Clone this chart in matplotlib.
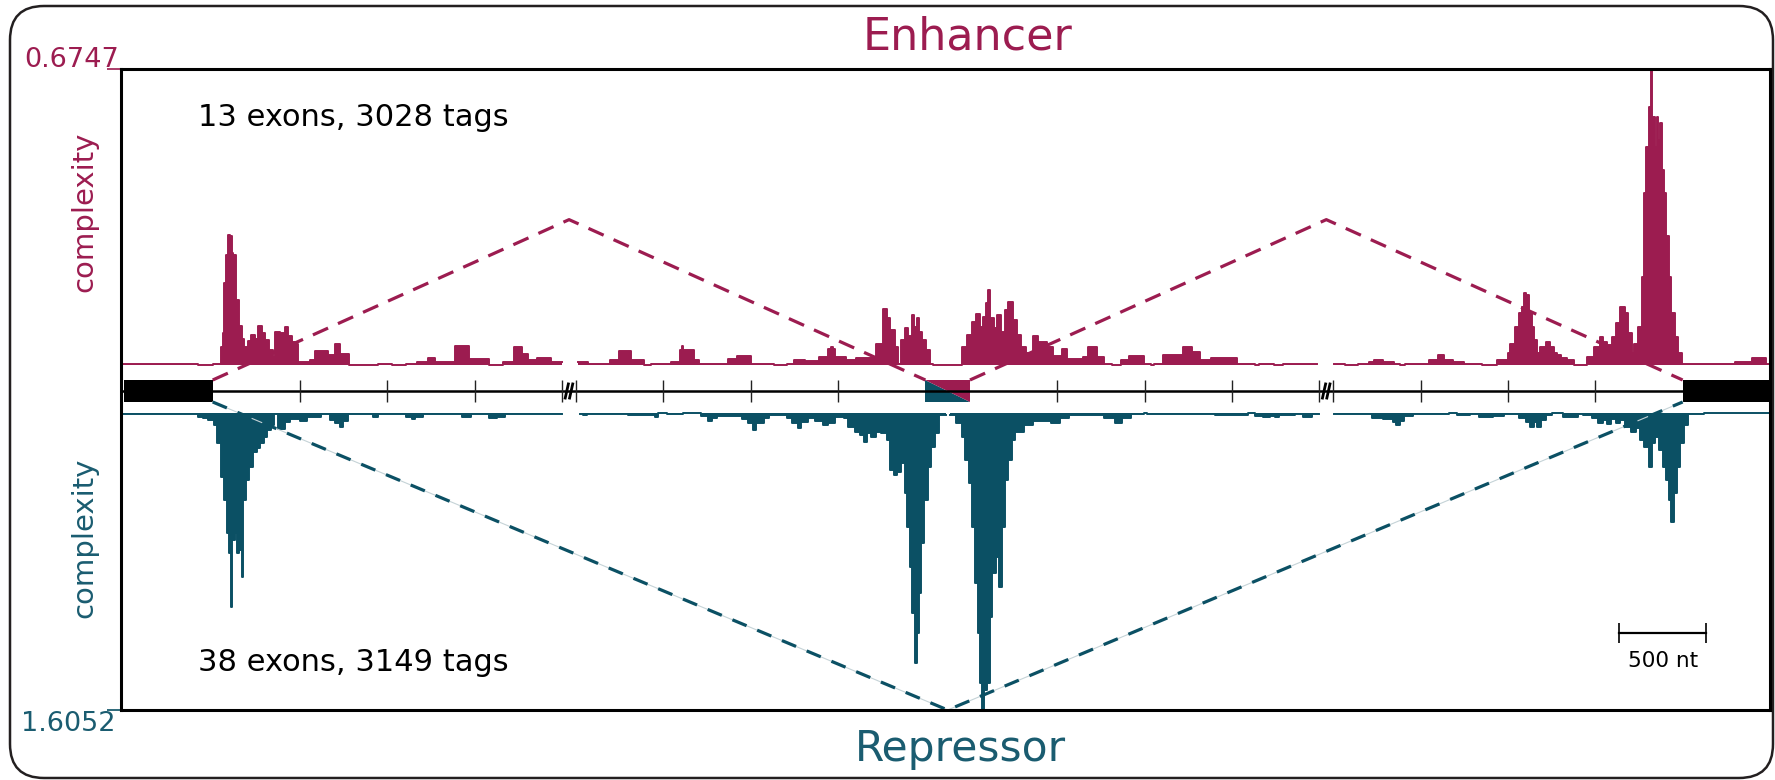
import numpy as np
import matplotlib
matplotlib.use("Agg")
from matplotlib import pyplot as plt
from matplotlib.patches import FancyBboxPatch, Rectangle, Polygon

plt.rcParams["font.family"] = ["DejaVu Sans"]

ENH_COLOR = "#9c1c50"
REP_COLOR = "#0b5064"
REP_TEXT = "#1a5c70"

# figure size in px (dpi 100)
W, H = 1775, 780

# genomic plotting coordinate (nt, introns truncated at the // breaks)
XMAX = 9440
ENH_MAX = 0.6747
REP_MAX = 1.6052

exon_starts = [20, 4605, 8940]
exon_ends = [525, 4860, 9440]
alt_exon = 1
break_starts = [2525, 6860]
break_width = 80
gene_ticks = [1025, 1525, 2025, 3105, 3605, 4105, 5360, 5860, 6360, 7440, 7940, 8440]

enh_junctions = [(525, 4605), (4860, 8940)]
rep_junctions = [(525, 8940)]

scale_start = 8575
scale_len = 500

# enhancer complexity track: step starts (nt) and values
enh_starts = [
    0, 439, 527, 572, 582, 592, 603, 613, 623, 633,
    644, 658, 674, 695, 705, 725, 746, 766, 787, 807,
    827, 848, 868, 883, 909, 936, 956, 977, 997, 1011,
    1083, 1113, 1185, 1226, 1256, 1308, 1471, 1553, 1634, 1696,
    1757, 1798, 1910, 1992, 2104, 2186, 2247, 2298, 2329, 2380,
    2462, 2523, 2615, 2676, 2799, 2850, 2921, 2993, 3034, 3148,
    3199, 3209, 3219, 3280, 3311, 3475, 3526, 3607, 3740, 3812,
    3853, 3914, 3996, 4047, 4067, 4077, 4087, 4149, 4210, 4302,
    4322, 4363, 4384, 4404, 4429, 4449, 4465, 4486, 4506, 4527,
    4537, 4557, 4568, 4588, 4608, 4629, 4649, 4813, 4843, 4874,
    4894, 4915, 4935, 4952, 4966, 4976, 4997, 5017, 5037, 5058,
    5078, 5109, 5129, 5150, 5180, 5221, 5252, 5303, 5334, 5385,
    5415, 5507, 5538, 5589, 5630, 5671, 5722, 5773, 5855, 5896,
    5916, 5967, 6079, 6130, 6178, 6241, 6388, 6493, 6514, 6598,
    6650, 6849, 6944, 7007, 7080, 7143, 7174, 7227, 7290, 7321,
    7353, 7489, 7541, 7573, 7625, 7688, 7793, 7877, 7940, 7950,
    7982, 8003, 8020, 8030, 8045, 8060, 8076, 8091, 8108, 8125,
    8160, 8181, 8202, 8223, 8244, 8276, 8318, 8391, 8433, 8464,
    8485, 8506, 8538, 8559, 8580, 8611, 8628, 8649, 8664, 8685,
    8706, 8720, 8733, 8745, 8758, 8766, 8779, 8792, 8800, 8811,
    8821, 8834, 8846, 8859, 8874, 8895, 8916, 8936, 9240, 9335,
    9419,
]
enh_vals = [
    0.003, 0.0, 0.003, 0.04, 0.073, 0.186, 0.25, 0.296, 0.294, 0.255,
    0.25, 0.148, 0.09, 0.06, 0.042, 0.055, 0.068, 0.06, 0.089, 0.073,
    0.056, 0.034, 0.018, 0.076, 0.073, 0.086, 0.065, 0.053, 0.049, 0.007,
    0.011, 0.032, 0.022, 0.048, 0.025, 0.0, 0.003, 0.0, 0.003, 0.007,
    0.017, 0.007, 0.043, 0.014, 0.0, 0.007, 0.04, 0.024, 0.012, 0.017,
    0.006, np.nan, 0.007, 0.003, 0.011, 0.032, 0.011, 0.0, 0.003, 0.007,
    0.034, 0.043, 0.034, 0.011, 0.003, 0.013, 0.02, 0.003, 0.0, 0.003,
    0.011, 0.009, 0.019, 0.036, 0.04, 0.036, 0.019, 0.011, 0.017, 0.019,
    0.049, 0.127, 0.106, 0.08, 0.042, 0.003, 0.057, 0.084, 0.065, 0.114,
    0.087, 0.106, 0.076, 0.057, 0.034, 0.003, 0.0, 0.042, 0.068, 0.099,
    0.117, 0.087, 0.11, 0.141, 0.171, 0.106, 0.084, 0.114, 0.076, 0.125,
    0.144, 0.103, 0.068, 0.042, 0.027, 0.066, 0.053, 0.042, 0.02, 0.036,
    0.013, 0.019, 0.04, 0.019, 0.003, 0.0, 0.011, 0.02, 0.003, 0.0,
    0.003, 0.023, 0.04, 0.03, 0.011, 0.017, 0.003, 0.0, 0.003, 0.0,
    0.003, np.nan, 0.003, 0.0, 0.003, 0.007, 0.011, 0.007, 0.003, 0.0,
    0.003, 0.012, 0.022, 0.012, 0.007, 0.003, 0.0, 0.011, 0.027, 0.049,
    0.087, 0.118, 0.133, 0.163, 0.159, 0.118, 0.087, 0.057, 0.027, 0.04,
    0.053, 0.041, 0.027, 0.022, 0.017, 0.012, 0.0, 0.019, 0.041, 0.064,
    0.053, 0.045, 0.064, 0.095, 0.133, 0.118, 0.072, 0.027, 0.049, 0.087,
    0.201, 0.391, 0.498, 0.589, 0.6747, 0.566, 0.498, 0.566, 0.513, 0.551,
    0.444, 0.391, 0.293, 0.201, 0.118, 0.064, 0.027, 0.003, 0.007, 0.017,
    0.003,
]

# repressor complexity track (drawn downwards)
rep_starts = [
    0, 439, 470, 500, 531, 552, 572, 592, 607, 617,
    627, 637, 650, 664, 674, 691, 699, 715, 735, 756,
    776, 797, 817, 838, 858, 874, 899, 940, 970, 1022,
    1062, 1144, 1195, 1226, 1256, 1271, 1297, 1440, 1471, 1634,
    1665, 1685, 1726, 1951, 2002, 2104, 2155, 2196, 2523, 2625,
    2646, 2666, 2901, 3056, 3076, 3127, 3219, 3321, 3362, 3383,
    3413, 3556, 3587, 3618, 3638, 3679, 3709, 3812, 3842, 3873,
    3893, 3934, 3975, 4016, 4047, 4087, 4138, 4159, 4200, 4230,
    4251, 4271, 4292, 4322, 4353, 4384, 4404, 4425, 4445, 4465,
    4486, 4502, 4517, 4531, 4543, 4555, 4568, 4582, 4598, 4619,
    4639, 4659, 4680, 4721, 4747, 4782, 4813, 4833, 4854, 4874,
    4890, 4905, 4919, 4931, 4943, 4956, 4972, 4986, 5007, 5027,
    5042, 5058, 5078, 5099, 5119, 5170, 5221, 5323, 5374, 5426,
    5630, 5691, 5732, 5783, 5855, 5875, 6262, 6451, 6493, 6535,
    6577, 6608, 6629, 6723, 6765, 6818, 6860, 6944, 7164, 7227,
    7279, 7300, 7321, 7342, 7395, 7604, 7646, 7720, 7772, 7856,
    7919, 8003, 8045, 8066, 8087, 8108, 8129, 8160, 8192, 8255,
    8339, 8370, 8423, 8454, 8485, 8506, 8527, 8559, 8580, 8611,
    8643, 8674, 8695, 8720, 8748, 8762, 8779, 8804, 8825, 8842,
    8859, 8874, 8888, 8905, 8926, 8947, 8968, 9062,
]
rep_vals = [
    0.006, 0.02, 0.029, 0.038, 0.065, 0.164, 0.344, 0.47, 0.65, 0.758,
    1.047, 0.686, 0.65, 0.758, 0.74, 0.884, 0.47, 0.36, 0.29, 0.209,
    0.191, 0.164, 0.128, 0.092, 0.065, 0.006, 0.088, 0.047, 0.034, 0.041,
    0.02, 0.006, 0.038, 0.052, 0.074, 0.041, 0.006, 0.02, 0.006, 0.02,
    0.034, 0.02, 0.006, 0.023, 0.006, 0.029, 0.02, 0.006, np.nan, 0.006,
    0.011, 0.006, 0.011, 0.02, 0.0, 0.006, 0.0, 0.016, 0.041, 0.029,
    0.016, 0.034, 0.056, 0.092, 0.052, 0.029, 0.011, 0.029, 0.056, 0.083,
    0.047, 0.029, 0.041, 0.065, 0.052, 0.02, 0.029, 0.074, 0.101, 0.119,
    0.155, 0.11, 0.128, 0.101, 0.11, 0.146, 0.308, 0.335, 0.317, 0.272,
    0.434, 0.614, 0.83, 1.083, 1.353, 1.191, 0.975, 0.704, 0.47, 0.29,
    0.182, 0.11, 0.011, np.nan, 0.011, 0.056, 0.128, 0.254, 0.38, 0.614,
    0.92, 1.191, 1.461, 1.6052, 1.497, 1.461, 1.101, 0.866, 0.776, 0.938,
    0.614, 0.362, 0.254, 0.146, 0.101, 0.065, 0.041, 0.056, 0.029, 0.011,
    0.029, 0.052, 0.029, 0.006, 0.0, 0.006, 0.011, 0.0, 0.016, 0.023,
    0.016, 0.023, 0.011, 0.006, 0.023, 0.006, np.nan, 0.006, 0.029, 0.034,
    0.047, 0.065, 0.041, 0.016, 0.006, 0.0, 0.011, 0.006, 0.023, 0.016,
    0.006, 0.029, 0.047, 0.074, 0.047, 0.074, 0.038, 0.011, 0.0, 0.023,
    0.006, 0.011, 0.029, 0.056, 0.038, 0.06, 0.034, 0.052, 0.038, 0.074,
    0.101, 0.083, 0.146, 0.182, 0.29, 0.164, 0.128, 0.2, 0.29, 0.362,
    0.47, 0.587, 0.434, 0.29, 0.164, 0.065, 0.006, 0.0,
]

assert len(enh_starts) == len(enh_vals)
assert len(rep_starts) == len(rep_vals)


def steps(starts, vals):
    starts = np.asarray(starts, float)
    ends = np.append(starts[1:], XMAX)
    xs = np.column_stack([starts, ends]).ravel()
    ys = np.repeat(np.asarray(vals, float), 2)
    return xs, ys


def fig_rect(x0, y0, x1, y1):
    # pixel box (y measured from the top) -> figure fraction
    return [x0 / W, 1 - y1 / H, (x1 - x0) / W, (y1 - y0) / H]


def clean(ax):
    ax.patch.set_alpha(0)
    for s in ax.spines.values():
        s.set_visible(False)
    ax.set_xticks([])


# layout (px)
BOX_L, BOX_T, BOX_R, BOX_B = 121, 69, 1770, 710
ENH_BASE = 365
REP_BASE = 413


def box_frac(y_px):
    return (BOX_B - y_px) / (BOX_B - BOX_T)


GENE_Y = box_frac(391)
EX_TOP = box_frac(380)
EX_BOT = box_frac(402)
APEX_ENH = 0.765
APEX_REP = 0.0

fig = plt.figure(figsize=(W / 100, H / 100), dpi=100)

# background: rounded outer frame and labels, in pixel units
bg = fig.add_axes([0, 0, 1, 1])
bg.set_xlim(0, W)
bg.set_ylim(H, 0)
bg.axis("off")
bg.add_patch(FancyBboxPatch((10, 6), 1763, 772, boxstyle="round,pad=0,rounding_size=34",
                            fc="none", ec="#231f20", lw=1.8))

bg.text(968, 49, "Enhancer", color=ENH_COLOR, fontsize=32, ha="center", va="baseline")
bg.text(960, 761, "Repressor", color=REP_TEXT, fontsize=30.5, ha="center", va="baseline")
bg.text(84, 212, "complexity", color=ENH_COLOR, fontsize=21, rotation=90, ha="center", va="center")
bg.text(84, 538, "complexity", color=REP_TEXT, fontsize=21, rotation=90, ha="center", va="center")
bg.text(198, 126, "13 exons, 3028 tags", fontsize=22, ha="left", va="baseline")
bg.text(198, 671, "38 exons, 3149 tags", fontsize=22, ha="left", va="baseline")
bg.text(119, 67, "0.6747", color=ENH_COLOR, fontsize=19.5, ha="right", va="baseline")
bg.text(116, 731, "1.6052", color=REP_TEXT, fontsize=19.5, ha="right", va="baseline")

# enhancer track
axe = fig.add_axes(fig_rect(BOX_L, BOX_T, BOX_R, ENH_BASE), zorder=2)
clean(axe)
axe.set_xlim(0, XMAX)
axe.set_ylim(0, ENH_MAX)
axe.set_yticks([ENH_MAX])
axe.tick_params(axis="y", length=10, width=1.2, color=ENH_COLOR, labelleft=False)
xs, ys = steps(enh_starts, enh_vals)
axe.fill_between(xs, 0, ys, color=ENH_COLOR, lw=0, clip_on=False)
axe.plot(xs, ys, color=ENH_COLOR, lw=1.4, clip_on=False)

# repressor track, growing down
axr = fig.add_axes(fig_rect(BOX_L, REP_BASE, BOX_R, BOX_B), zorder=2)
clean(axr)
axr.set_xlim(0, XMAX)
axr.set_ylim(REP_MAX, 0)
axr.set_yticks([REP_MAX])
axr.tick_params(axis="y", length=10, width=1.2, color=REP_COLOR, labelleft=False)
xs, ys = steps(rep_starts, rep_vals)
axr.fill_between(xs, 0, ys, color=REP_COLOR, lw=0, clip_on=False)
axr.plot(xs, ys, color=REP_COLOR, lw=1.4, clip_on=False)

# boxed panel with gene model and junction arcs
axg = fig.add_axes(fig_rect(BOX_L, BOX_T, BOX_R, BOX_B), zorder=3)
axg.patch.set_alpha(0)
axg.set_xlim(0, XMAX)
axg.set_ylim(0, 1)
axg.set_xticks([])
axg.set_yticks([])
for s in axg.spines.values():
    s.set_linewidth(2.2)
    s.set_color("black")

axg.plot([0, XMAX], [GENE_Y, GENE_Y], color="black", lw=1.8, solid_capstyle="butt")
axg.vlines(gene_ticks, EX_BOT, EX_TOP, color="#222222", lw=1.0)
for b in break_starts:
    axg.vlines([b, b + break_width], EX_BOT, EX_TOP, color="#222222", lw=1.0)
    for c in (b + 27, b + 52):
        axg.plot([c - 9, c + 9], [GENE_Y - 0.011, GENE_Y + 0.011], color="black", lw=2.0)

for i, (s, e) in enumerate(zip(exon_starts, exon_ends)):
    if i == alt_exon:
        axg.add_patch(Polygon([(s, EX_TOP), (s, EX_BOT), (e, EX_BOT)], closed=True,
                              fc=REP_COLOR, ec="none"))
        axg.add_patch(Polygon([(s, EX_TOP), (e, EX_TOP), (e, EX_BOT)], closed=True,
                              fc=ENH_COLOR, ec="none"))
    else:
        axg.add_patch(Rectangle((s, EX_BOT), e - s, EX_TOP - EX_BOT, fc="black", ec="none"))

for a, b in enh_junctions:
    axg.plot([a, (a + b) / 2, b], [EX_TOP, APEX_ENH, EX_TOP], color=ENH_COLOR,
             lw=2.3, dashes=(5.2, 3.4))
for a, b in rep_junctions:
    axg.plot([a, (a + b) / 2, b], [EX_BOT, APEX_REP, EX_BOT], color="#c5d3d7", lw=0.8)
    axg.plot([a, (a + b) / 2, b], [EX_BOT, APEX_REP, EX_BOT], color=REP_COLOR,
             lw=2.3, dashes=(4.8, 3.6))

# scale bar
sb_y = box_frac(633)
axg.plot([scale_start, scale_start + scale_len], [sb_y, sb_y], color="black", lw=1.6)
axg.vlines([scale_start, scale_start + scale_len], box_frac(643), box_frac(623), color="black", lw=1.2)
axg.text(scale_start + scale_len / 2, box_frac(667), "500 nt", fontsize=15.5,
         ha="center", va="baseline")

fig.savefig("out.png", dpi=100)
